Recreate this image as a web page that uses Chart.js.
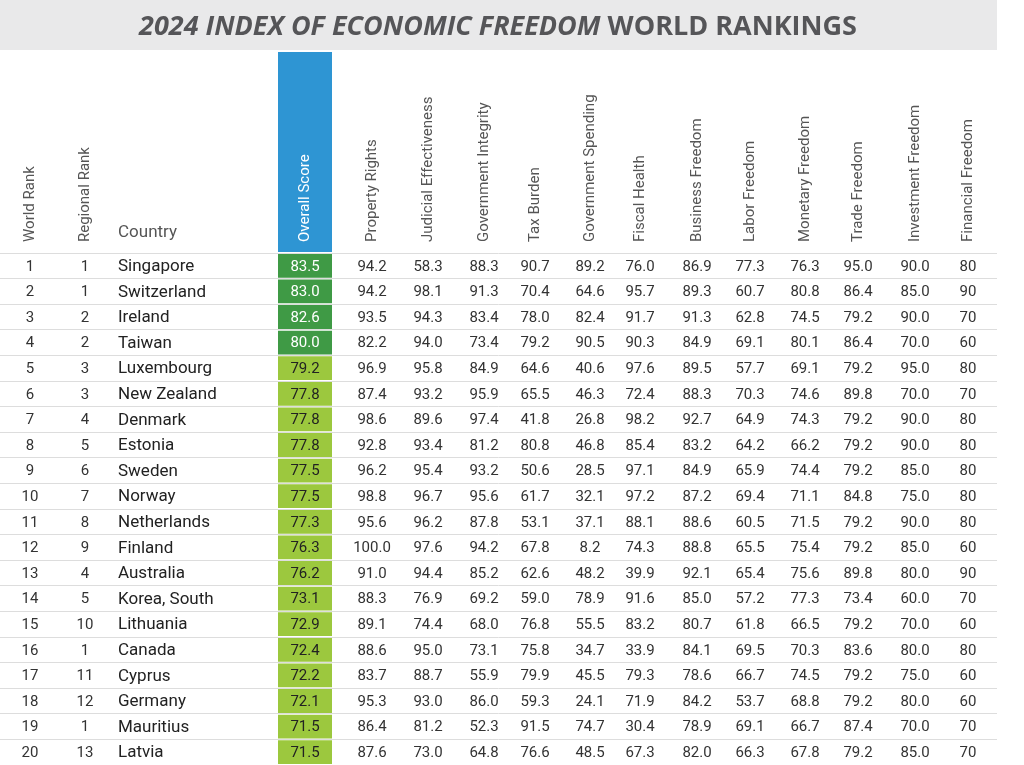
<!DOCTYPE html>
<html><head><meta charset="utf-8">
<script src="https://cdn.jsdelivr.net/npm/chart.js@4"></script>
<style>html,body{margin:0;padding:0;background:#fff}#wrap{width:1024px;height:765px}</style>
</head><body><div id="wrap"><canvas id="c" width="1024" height="765"></canvas></div>
<script>
var headers = ['World Rank','Regional Rank','Country','Overall Score','Property Rights','Judicial Effectiveness','Government Integrity','Tax Burden','Government Spending','Fiscal Health','Business Freedom','Labor Freedom','Monetary Freedom','Trade Freedom','Investment Freedom','Financial Freedom'];
var worldRank = [1,2,3,4,5,6,7,8,9,10,11,12,13,14,15,16,17,18,19,20];
var regionalRank = [1,1,2,2,3,3,4,5,6,7,8,9,4,5,10,1,11,12,1,13];
var countries = ['Singapore','Switzerland','Ireland','Taiwan','Luxembourg','New Zealand','Denmark','Estonia','Sweden','Norway','Netherlands','Finland','Australia','Korea, South','Lithuania','Canada','Cyprus','Germany','Mauritius','Latvia'];
var overall = [83.5,83.0,82.6,80.0,79.2,77.8,77.8,77.8,77.5,77.5,77.3,76.3,76.2,73.1,72.9,72.4,72.2,72.1,71.5,71.5];
var propertyRights = [94.2,94.2,93.5,82.2,96.9,87.4,98.6,92.8,96.2,98.8,95.6,100.0,91.0,88.3,89.1,88.6,83.7,95.3,86.4,87.6];
var judicial = [58.3,98.1,94.3,94.0,95.8,93.2,89.6,93.4,95.4,96.7,96.2,97.6,94.4,76.9,74.4,95.0,88.7,93.0,81.2,73.0];
var integrity = [88.3,91.3,83.4,73.4,84.9,95.9,97.4,81.2,93.2,95.6,87.8,94.2,85.2,69.2,68.0,73.1,55.9,86.0,52.3,64.8];
var taxBurden = [90.7,70.4,78.0,79.2,64.6,65.5,41.8,80.8,50.6,61.7,53.1,67.8,62.6,59.0,76.8,75.8,79.9,59.3,91.5,76.6];
var govSpending = [89.2,64.6,82.4,90.5,40.6,46.3,26.8,46.8,28.5,32.1,37.1,8.2,48.2,78.9,55.5,34.7,45.5,24.1,74.7,48.5];
var fiscalHealth = [76.0,95.7,91.7,90.3,97.6,72.4,98.2,85.4,97.1,97.2,88.1,74.3,39.9,91.6,83.2,33.9,79.3,71.9,30.4,67.3];
var business = [86.9,89.3,91.3,84.9,89.5,88.3,92.7,83.2,84.9,87.2,88.6,88.8,92.1,85.0,80.7,84.1,78.6,84.2,78.9,82.0];
var labor = [77.3,60.7,62.8,69.1,57.7,70.3,64.9,64.2,65.9,69.4,60.5,65.5,65.4,57.2,61.8,69.5,66.7,53.7,69.1,66.3];
var monetary = [76.3,80.8,74.5,80.1,69.1,74.6,74.3,66.2,74.4,71.1,71.5,75.4,75.6,77.3,66.5,70.3,74.5,68.8,66.7,67.8];
var trade = [95.0,86.4,79.2,86.4,79.2,89.8,79.2,79.2,79.2,84.8,79.2,79.2,89.8,73.4,79.2,83.6,79.2,79.2,87.4,79.2];
var investment = [90.0,85.0,90.0,70.0,95.0,70.0,90.0,90.0,85.0,75.0,90.0,85.0,80.0,60.0,70.0,80.0,75.0,80.0,70.0,85.0];
var financial = [80,90,70,60,80,70,80,80,80,80,80,60,90,70,60,80,60,60,70,70];

var cols = [worldRank,regionalRank,countries,overall,propertyRights,judicial,integrity,taxBurden,govSpending,fiscalHealth,business,labor,monetary,trade,investment,financial];
var colX = [30,85,118,305,372,428,484,535,590,640,697,750,805,858,915,968];
var scoreL = 278, scoreR = 332;

function fmt(v){ return typeof v === 'number' && v % 1 !== 0 || (typeof v==='number' && v>=10 && v<100 && String(v).length<3 && false) ? v.toFixed(1) : String(v); }

var tablePlugin = {
  id: 'table',
  beforeDatasetsDraw: function(chart){
    var ctx = chart.ctx, x = chart.scales.x, y = chart.scales.y;
    ctx.save();
    // title band
    ctx.fillStyle = '#e9e9ea';
    ctx.fillRect(0, 0, x.getPixelForValue(997), 50);
    ctx.fillStyle = '#555558';
    ctx.textBaseline = 'middle';
    var f1 = 'italic bold 27px "Open Sans", sans-serif', f2 = 'bold 27px "Open Sans", sans-serif';
    var t1 = '2024 INDEX OF ECONOMIC FREEDOM', t2 = ' WORLD RANKINGS';
    ctx.font = f1; var w1 = ctx.measureText(t1).width;
    ctx.font = f2; var w2 = ctx.measureText(t2).width;
    var sx = 498 - (w1 + w2) / 2;
    ctx.font = f1; ctx.textAlign = 'left'; ctx.fillText(t1, sx, 27);
    ctx.font = f2; ctx.fillText(t2, sx + w1, 27);
    // blue header for overall score
    ctx.fillStyle = '#2e95d3';
    ctx.fillRect(x.getPixelForValue(scoreL), 52, x.getPixelForValue(scoreR) - x.getPixelForValue(scoreL), 200);
    ctx.restore();
  },
  afterDatasetsDraw: function(chart){
    var ctx = chart.ctx, x = chart.scales.x, y = chart.scales.y;
    ctx.save();
    ctx.textBaseline = 'middle';
    headers.forEach(function(h, i){
      ctx.save();
      ctx.font = '15px "Liberation Sans Narrow", "Roboto", sans-serif';
      ctx.fillStyle = i === 3 ? '#ffffff' : '#555';
      if (i === 2) {
        ctx.font = '17px "Liberation Sans Narrow", "Roboto", sans-serif';
        ctx.textAlign = 'left';
        ctx.fillText(h, x.getPixelForValue(colX[i]), 233);
      } else {
        ctx.translate(x.getPixelForValue(colX[i]), 242);
        ctx.rotate(-Math.PI / 2);
        ctx.textAlign = 'left';
        ctx.fillText(h, 0, 0);
      }
      ctx.restore();
    });
    cols.forEach(function(arr, i){
      arr.forEach(function(v, r){
        var py = y.getPixelForValue(r) + 1;
        var px = x.getPixelForValue(colX[i]);
        if (i === 2) {
          ctx.font = '17px "Liberation Sans Narrow", "Roboto", sans-serif';
          ctx.fillStyle = '#222'; ctx.textAlign = 'left';
        } else {
          ctx.font = '15px "Liberation Sans Narrow", "Roboto", sans-serif';
          ctx.fillStyle = i === 3 ? (overall[r] >= 80 ? '#ffffff' : '#222') : '#333';
          ctx.textAlign = 'center';
        }
        var s = (i >= 3 && i < 15) ? Number(v).toFixed(1) : String(v);
        ctx.fillText(s, px, py);
      });
    });
    ctx.restore();
  }
};

new Chart(document.getElementById('c'), {
  type: 'bar',
  data: {
    labels: countries,
    datasets: [{
      data: overall.map(function(){ return [scoreL, scoreR]; }),
      backgroundColor: overall.map(function(v){ return v >= 80 ? '#3f9a45' : '#9cc83e'; }),
      barPercentage: 1, categoryPercentage: 0.93
    }]
  },
  options: {
    indexAxis: 'y', responsive: false, animation: false,
    layout: { padding: { top: 253, right: 27, left: 0, bottom: 0 } },
    plugins: { legend: { display: false }, tooltip: { enabled: false } },
    scales: {
      x: { type: 'linear', min: 0, max: 997, display: false },
      y: { type: 'category', offset: true, ticks: { display: false }, border: { display: false },
           grid: { offset: true, color: '#dddddd', drawTicks: false, lineWidth: 1 } }
    }
  },
  plugins: [tablePlugin]
});
</script>
</body></html>
